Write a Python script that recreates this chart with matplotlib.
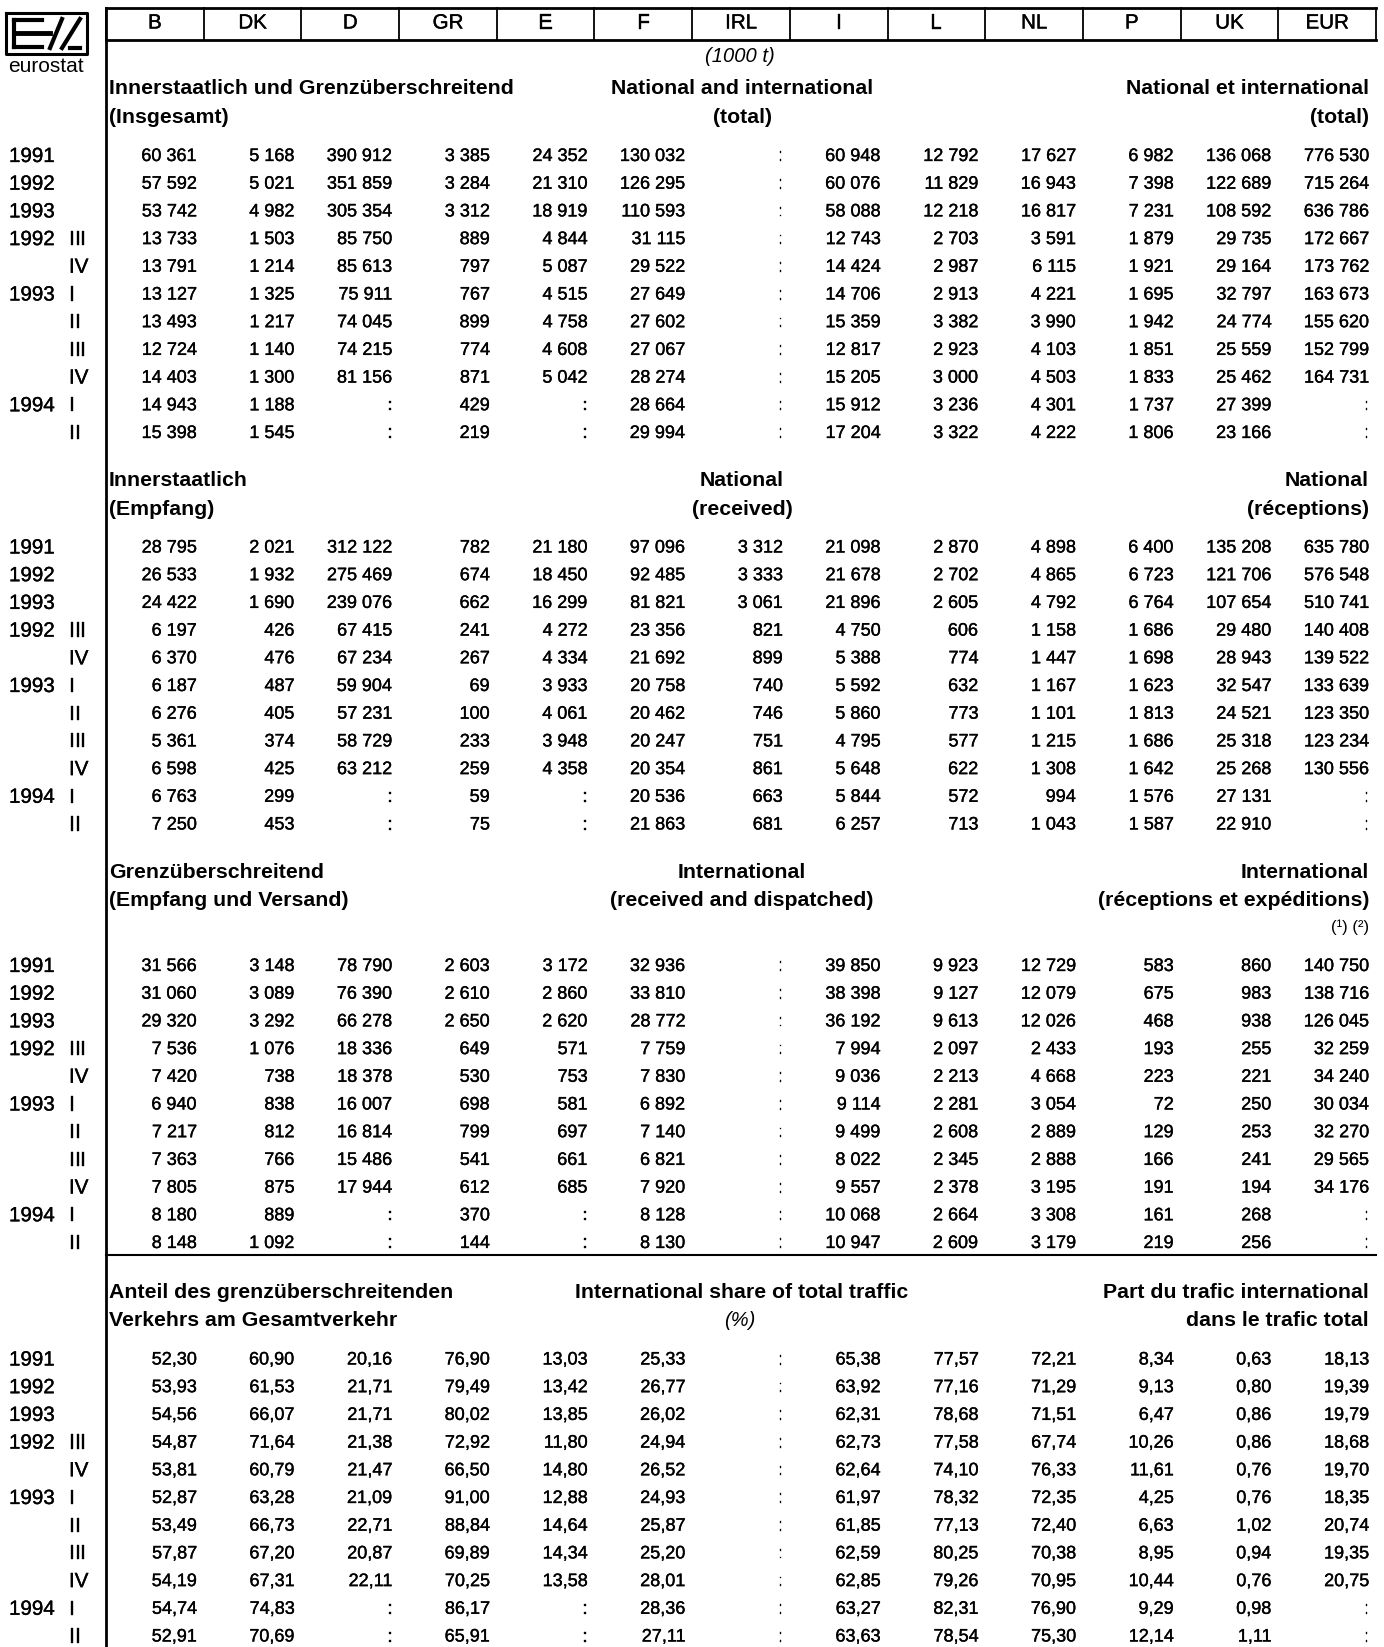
import matplotlib.pyplot as plt
import matplotlib.patheffects as pe

# --- data ---
countries = ["B", "DK", "D", "GR", "E", "F", "IRL", "I", "L", "NL", "P", "UK", "EUR"]
row_years = ["1991", "1992", "1993", "1992", "", "1993", "", "", "", "1994", ""]
row_quarters = ["", "", "", "III", "IV", "I", "II", "III", "IV", "I", "II"]
NA = None

# total (1000 t), one list per country
total = {
    "B": [60361, 57592, 53742, 13733, 13791, 13127, 13493, 12724, 14403, 14943, 15398],
    "DK": [5168, 5021, 4982, 1503, 1214, 1325, 1217, 1140, 1300, 1188, 1545],
    "D": [390912, 351859, 305354, 85750, 85613, 75911, 74045, 74215, 81156, NA, NA],
    "GR": [3385, 3284, 3312, 889, 797, 767, 899, 774, 871, 429, 219],
    "E": [24352, 21310, 18919, 4844, 5087, 4515, 4758, 4608, 5042, NA, NA],
    "F": [130032, 126295, 110593, 31115, 29522, 27649, 27602, 27067, 28274, 28664, 29994],
    "IRL": [NA] * 11,
    "I": [60948, 60076, 58088, 12743, 14424, 14706, 15359, 12817, 15205, 15912, 17204],
    "L": [12792, 11829, 12218, 2703, 2987, 2913, 3382, 2923, 3000, 3236, 3322],
    "NL": [17627, 16943, 16817, 3591, 6115, 4221, 3990, 4103, 4503, 4301, 4222],
    "P": [6982, 7398, 7231, 1879, 1921, 1695, 1942, 1851, 1833, 1737, 1806],
    "UK": [136068, 122689, 108592, 29735, 29164, 32797, 24774, 25559, 25462, 27399, 23166],
    "EUR": [776530, 715264, 636786, 172667, 173762, 163673, 155620, 152799, 164731, NA, NA],
}

national = {
    "B": [28795, 26533, 24422, 6197, 6370, 6187, 6276, 5361, 6598, 6763, 7250],
    "DK": [2021, 1932, 1690, 426, 476, 487, 405, 374, 425, 299, 453],
    "D": [312122, 275469, 239076, 67415, 67234, 59904, 57231, 58729, 63212, NA, NA],
    "GR": [782, 674, 662, 241, 267, 69, 100, 233, 259, 59, 75],
    "E": [21180, 18450, 16299, 4272, 4334, 3933, 4061, 3948, 4358, NA, NA],
    "F": [97096, 92485, 81821, 23356, 21692, 20758, 20462, 20247, 20354, 20536, 21863],
    "IRL": [3312, 3333, 3061, 821, 899, 740, 746, 751, 861, 663, 681],
    "I": [21098, 21678, 21896, 4750, 5388, 5592, 5860, 4795, 5648, 5844, 6257],
    "L": [2870, 2702, 2605, 606, 774, 632, 773, 577, 622, 572, 713],
    "NL": [4898, 4865, 4792, 1158, 1447, 1167, 1101, 1215, 1308, 994, 1043],
    "P": [6400, 6723, 6764, 1686, 1698, 1623, 1813, 1686, 1642, 1576, 1587],
    "UK": [135208, 121706, 107654, 29480, 28943, 32547, 24521, 25318, 25268, 27131, 22910],
    "EUR": [635780, 576548, 510741, 140408, 139522, 133639, 123350, 123234, 130556, NA, NA],
}

international = {
    "B": [31566, 31060, 29320, 7536, 7420, 6940, 7217, 7363, 7805, 8180, 8148],
    "DK": [3148, 3089, 3292, 1076, 738, 838, 812, 766, 875, 889, 1092],
    "D": [78790, 76390, 66278, 18336, 18378, 16007, 16814, 15486, 17944, NA, NA],
    "GR": [2603, 2610, 2650, 649, 530, 698, 799, 541, 612, 370, 144],
    "E": [3172, 2860, 2620, 571, 753, 581, 697, 661, 685, NA, NA],
    "F": [32936, 33810, 28772, 7759, 7830, 6892, 7140, 6821, 7920, 8128, 8130],
    "IRL": [NA] * 11,
    "I": [39850, 38398, 36192, 7994, 9036, 9114, 9499, 8022, 9557, 10068, 10947],
    "L": [9923, 9127, 9613, 2097, 2213, 2281, 2608, 2345, 2378, 2664, 2609],
    "NL": [12729, 12079, 12026, 2433, 4668, 3054, 2889, 2888, 3195, 3308, 3179],
    "P": [583, 675, 468, 193, 223, 72, 129, 166, 191, 161, 219],
    "UK": [860, 983, 938, 255, 221, 250, 253, 241, 194, 268, 256],
    "EUR": [140750, 138716, 126045, 32259, 34240, 30034, 32270, 29565, 34176, NA, NA],
}

# international share of total (%)
share = {
    "B": [52.30, 53.93, 54.56, 54.87, 53.81, 52.87, 53.49, 57.87, 54.19, 54.74, 52.91],
    "DK": [60.90, 61.53, 66.07, 71.64, 60.79, 63.28, 66.73, 67.20, 67.31, 74.83, 70.69],
    "D": [20.16, 21.71, 21.71, 21.38, 21.47, 21.09, 22.71, 20.87, 22.11, NA, NA],
    "GR": [76.90, 79.49, 80.02, 72.92, 66.50, 91.00, 88.84, 69.89, 70.25, 86.17, 65.91],
    "E": [13.03, 13.42, 13.85, 11.80, 14.80, 12.88, 14.64, 14.34, 13.58, NA, NA],
    "F": [25.33, 26.77, 26.02, 24.94, 26.52, 24.93, 25.87, 25.20, 28.01, 28.36, 27.11],
    "IRL": [NA] * 11,
    "I": [65.38, 63.92, 62.31, 62.73, 62.64, 61.97, 61.85, 62.59, 62.85, 63.27, 63.63],
    "L": [77.57, 77.16, 78.68, 77.58, 74.10, 78.32, 77.13, 80.25, 79.26, 82.31, 78.54],
    "NL": [72.21, 71.29, 71.51, 67.74, 76.33, 72.35, 72.40, 70.38, 70.95, 76.90, 75.30],
    "P": [8.34, 9.13, 6.47, 10.26, 11.61, 4.25, 6.63, 8.95, 10.44, 9.29, 12.14],
    "UK": [0.63, 0.80, 0.86, 0.86, 0.76, 0.76, 1.02, 0.94, 0.76, 0.98, 1.11],
    "EUR": [18.13, 19.39, 19.79, 18.68, 19.70, 18.35, 20.74, 19.35, 20.75, NA, NA],
}

headings = [
    (["Innerstaatlich und Grenzüberschreitend", "(Insgesamt)"],
     ["National and international", "(total)"],
     ["National et international", "(total)"]),
    (["Innerstaatlich", "(Empfang)"],
     ["National", "(received)"],
     ["National", "(réceptions)"]),
    (["Grenzüberschreitend", "(Empfang und Versand)"],
     ["International", "(received and dispatched)"],
     ["International", "(réceptions et expéditions)"]),
    (["Anteil des grenzüberschreitenden", "Verkehrs am Gesamtverkehr"],
     ["International share of total traffic", ""],
     ["Part du trafic international", "dans le trafic total"]),
]


def fmt_int(v):
    if v is None:
        return ":"
    return f"{v:,}".replace(",", " ")


def fmt_pct(v):
    if v is None:
        return ":"
    return f"{v:.2f}".replace(".", ",")


plt.rcParams['font.family'] = ['Liberation Sans', 'DejaVu Sans']

W, H = 1384, 1647
fig = plt.figure(figsize=(W / 100, H / 100), dpi=100)
ax = fig.add_axes([0, 0, 1, 1])
ax.set_xlim(0, W)
ax.set_ylim(H, 0)
ax.axis('off')

# a touch heavier than plain regular, like the scanned print
thick = [pe.withStroke(linewidth=0.25, foreground="black")]

x0, x1 = 106, 1376
step = (x1 - x0) / len(countries)
num_fs = 13
lab_fs = 14.8
head_fs = 15.3

# header row
ax.plot([x0, x1], [8, 8], color="black", lw=2)
ax.plot([x0, x1], [40, 40], color="black", lw=2)
for i, c in enumerate(countries):
    ax.plot([x0 + i * step] * 2, [8, 40], color="black", lw=1.3)
    ax.text(x0 + (i + 0.5) * step, 23, c, ha="center", va="center",
            fontsize=lab_fs, path_effects=thick)
ax.plot([x1, x1], [8, 40], color="black", lw=1.3)
ax.plot([x0, x0], [8, H], color="black", lw=2)

# logo
ax.plot([6, 87, 87, 6, 6], [13, 13, 54, 54, 13], color="black", lw=2.2)
ax.plot([14, 14], [20, 47], color="black", lw=3)
ax.plot([14, 42], [20, 20], color="black", lw=3)
ax.plot([14, 50], [33, 33], color="black", lw=3.5)
ax.plot([14, 42], [47, 47], color="black", lw=3)
ax.plot([50, 62], [48, 19], color="black", lw=3)
ax.plot([62, 80], [48, 19], color="black", lw=3)
ax.plot([70, 80], [48, 48], color="black", lw=3)
ax.text(46, 66, "eurostat", ha="center", va="center", fontsize=15)

ax.text(740, 57, "(1000 t)", ha="center", va="center", fontsize=14.5, style="italic")
ax.text(740, 1321, "(%)", ha="center", va="center", fontsize=14.5, style="italic")

sections = [
    (total, fmt_int, 89, 156.5),
    (national, fmt_int, 481, 548),
    (international, fmt_int, 872.5, 966.5),
    (share, fmt_pct, 1292.5, 1360),
]
row_step = 27.7
line_step = 28.4
right_x = x1 - 7

for (table, fmt, hy, dy), (left, mid, right) in zip(sections, headings):
    for k in range(2):
        ax.text(x0 + 3, hy + k * line_step, left[k], ha="left", va="center",
                fontsize=head_fs, fontweight="bold")
        if mid[k]:
            ax.text(742, hy + k * line_step, mid[k], ha="center", va="center",
                    fontsize=head_fs, fontweight="bold")
        ax.text(right_x, hy + k * line_step, right[k], ha="right", va="center",
                fontsize=head_fs, fontweight="bold")
    for r in range(len(row_years)):
        y = dy + r * row_step
        ax.text(9, y, row_years[r], ha="left", va="center", fontsize=lab_fs, path_effects=thick)
        ax.text(69, y, row_quarters[r], ha="left", va="center", fontsize=lab_fs, path_effects=thick)
        for i, c in enumerate(countries):
            ax.text(x0 + (i + 1) * step - 7, y, fmt(table[c][r]),
                    ha="right", va="center", fontsize=num_fs, path_effects=thick)

ax.text(right_x, 927, "(\u00b9) (\u00b2)", ha="right", va="center", fontsize=12)
ax.plot([x0, x1], [1255, 1255], color="black", lw=1.5)

fig.savefig("out.png", dpi=100)
